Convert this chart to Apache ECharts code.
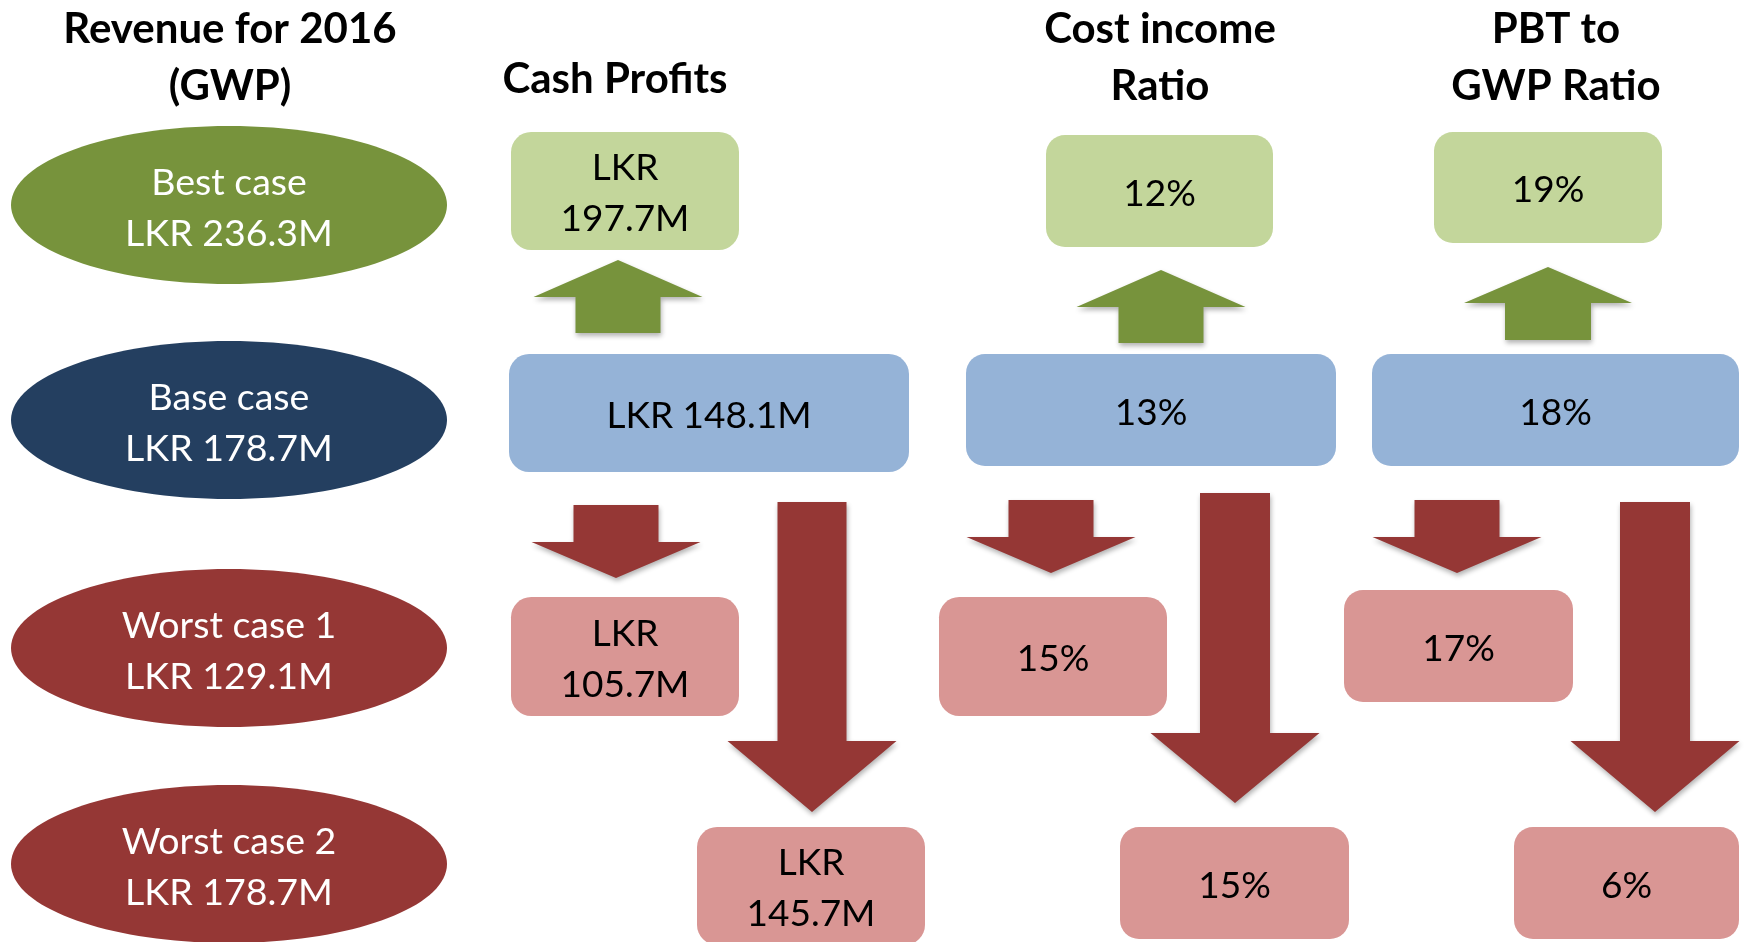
<!DOCTYPE html>
<html>
<head>
<meta charset="utf-8">
<title>Revenue scenarios 2016</title>
<script src="https://cdn.jsdelivr.net/npm/echarts@6/dist/echarts.min.js"></script>
<style>
html, body { margin: 0; padding: 0; background: #fff; }
#main { width: 1746px; height: 942px; }
</style>
</head>
<body>
<div id="main"></div>
<script>
// data
var columnTitles = ['Revenue for 2016\n(GWP)', 'Cash Profits', 'Cost income\nRatio', 'PBT to\nGWP Ratio'];
var caseNames = ['Best case', 'Base case', 'Worst case 1', 'Worst case 2'];
var revenueLKRm = [236.3, 178.7, 129.1, 178.7];
var cashProfitsLKRm = [197.7, 148.1, 105.7, 145.7];
var costIncomePct = [12, 13, 15, 15];
var pbtToGwpPct = [19, 18, 17, 6];

// layout, in page pixels on the hidden axes
var titleAt = [[230, 58], [615, 79], [1160, 58], [1556, 58]];
var ovalAt = [[229, 205], [229, 420], [229, 648], [229, 864]];
var ovalR = [218, 79];
// [left, top, width, height] per case
var cashBoxes = [[511, 132, 228, 118], [509, 354, 400, 118], [511, 597, 228, 119], [697, 827, 228, 118]];
var costBoxes = [[1046, 135, 227, 112], [966, 354, 370, 112], [939, 597, 228, 119], [1120, 827, 229, 112]];
var pbtBoxes = [[1434, 132, 228, 111], [1372, 354, 367, 112], [1344, 590, 229, 112], [1514, 827, 225, 112]];
// [x centre, tail y, tip y, shaft width, head width, head length]
var arrows = [
    [618, 333, 260, 85, 169, 37],
    [616, 505, 578, 85, 169, 36],
    [812, 502, 812, 69, 169, 71],
    [1161, 343, 270, 85, 169, 37],
    [1051, 500, 573, 85, 169, 36],
    [1235, 493, 803, 70, 169, 70],
    [1548, 340, 267, 86, 168, 36],
    [1457, 500, 573, 85, 169, 36],
    [1655, 502, 812, 70, 169, 71]
];

var FONT = 'Lato';
var TEXT_DY = 3;
var ovalColors = ['#77933C', '#243F60', '#953735', '#953735'];
var boxColors = ['#C3D69B', '#95B3D7', '#D99694', '#D99694'];
var upColor = '#77933C', downColor = '#953735';

var chart = echarts.init(document.getElementById('main'));

function textEl(x, y, text, color, size, bold, lh) {
    return {
        type: 'text',
        style: {
            x: x, y: y, text: text, fill: color,
            align: 'center', verticalAlign: 'middle',
            fontFamily: FONT, fontSize: size, fontWeight: bold ? 'bold' : 'normal',
            lineHeight: lh
        }
    };
}

function renderTitle(params, api) {
    var i = api.value(0);
    var c = api.coord(titleAt[i]);
    return textEl(c[0], c[1], columnTitles[i], '#000', 42, true, 57);
}

function renderOval(params, api) {
    var i = api.value(0);
    var c = api.coord(ovalAt[i]);
    var r = api.size(ovalR);
    return {
        type: 'group',
        children: [
            { type: 'ellipse', shape: { cx: c[0], cy: c[1], rx: r[0], ry: r[1] }, style: { fill: ovalColors[i] } },
            textEl(c[0], c[1] + TEXT_DY, caseNames[i] + '\nLKR ' + api.value(1).toFixed(1) + 'M', '#fff', 37.5, false, 51)
        ]
    };
}

function boxRenderer(rects, fmt) {
    return function (params, api) {
        var i = api.value(0);
        var b = rects[i];
        var p = api.coord([b[0], b[1]]);
        var s = api.size([b[2], b[3]]);
        return {
            type: 'group',
            children: [
                {
                    type: 'rect',
                    shape: { x: p[0], y: p[1], width: s[0], height: s[1], r: Math.min(s[0], s[1]) * 0.17 },
                    style: { fill: boxColors[i] }
                },
                textEl(p[0] + s[0] / 2, p[1] + s[1] / 2 + TEXT_DY, fmt(api.value(1), s[0]), '#000', 37, false, 51)
            ]
        };
    };
}

function renderArrow(params, api) {
    var a = arrows[api.value(0)];
    var tail = api.coord([a[0], a[1]]);
    var tip = api.coord([a[0], a[2]]);
    var sw = api.size([a[3], 0])[0] / 2;
    var hw = api.size([a[4], 0])[0] / 2;
    var dir = tip[1] < tail[1] ? -1 : 1;
    var hl = api.size([0, a[5]])[1] * dir;
    var x = tail[0];
    var base = tip[1] - hl;
    return {
        type: 'polygon',
        shape: {
            points: [
                [x - sw, tail[1]], [x - sw, base], [x - hw, base], [x, tip[1]],
                [x + hw, base], [x + sw, base], [x + sw, tail[1]]
            ]
        },
        style: {
            fill: dir < 0 ? upColor : downColor,
            shadowBlur: 5, shadowColor: 'rgba(0,0,0,0.3)', shadowOffsetX: 1, shadowOffsetY: 3
        }
    };
}

function idx(arr) {
    return arr.map(function (v, i) { return [i, v]; });
}

chart.setOption({
    animation: false,
    grid: { left: 0, right: 0, top: 0, bottom: 0 },
    xAxis: { type: 'value', min: 0, max: 1746, show: false },
    yAxis: { type: 'value', min: 0, max: 942, inverse: true, show: false },
    series: [
        { type: 'custom', renderItem: renderArrow, data: idx(arrows.map(function () { return 0; })) },
        { type: 'custom', renderItem: renderOval, data: idx(revenueLKRm) },
        {
            type: 'custom', data: idx(cashProfitsLKRm),
            renderItem: boxRenderer(cashBoxes, function (v, w) {
                return 'LKR' + (w > 300 ? ' ' : '\n') + v.toFixed(1) + 'M';
            })
        },
        { type: 'custom', data: idx(costIncomePct), renderItem: boxRenderer(costBoxes, function (v) { return v + '%'; }) },
        { type: 'custom', data: idx(pbtToGwpPct), renderItem: boxRenderer(pbtBoxes, function (v) { return v + '%'; }) },
        { type: 'custom', renderItem: renderTitle, data: idx(columnTitles.map(function () { return 0; })) }
    ]
});
</script>
</body>
</html>
